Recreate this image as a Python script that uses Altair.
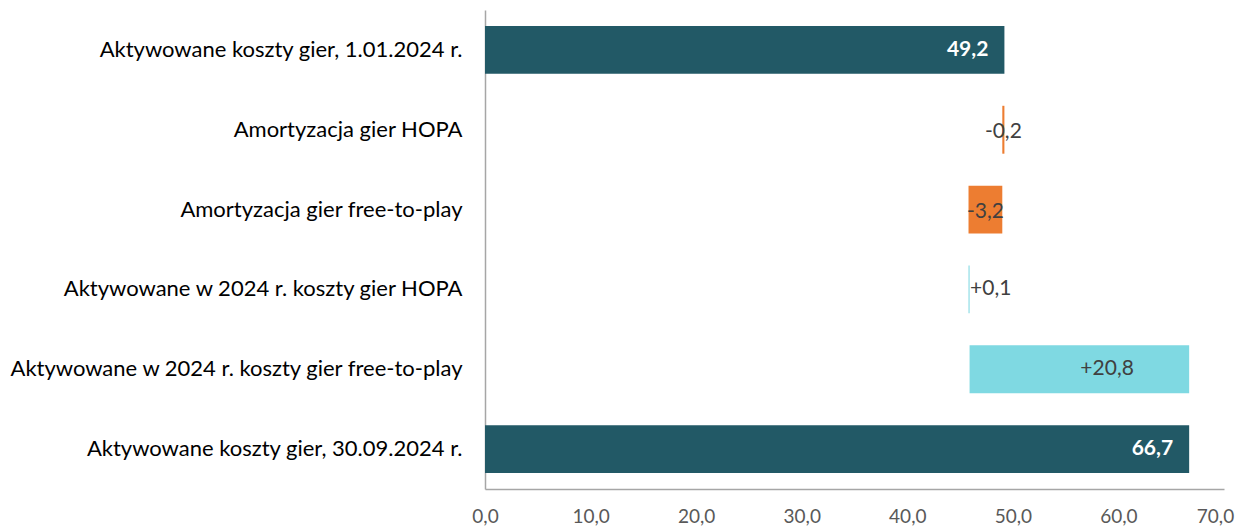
import altair as alt
import pandas as pd

categories = [
    "Aktywowane koszty gier, 1.01.2024 r.",
    "Amortyzacja gier HOPA",
    "Amortyzacja gier free-to-play",
    "Aktywowane w 2024 r. koszty gier HOPA",
    "Aktywowane w 2024 r. koszty gier free-to-play",
    "Aktywowane koszty gier, 30.09.2024 r.",
]
values = [49.2, -0.2, -3.2, 0.1, 20.8, 66.7]
kinds = ["total", "change", "change", "change", "change", "total"]

rows = []
running = 0.0
for cat, v, k in zip(categories, values, kinds):
    if k == "total":
        start, end = 0.0, v
        running = v
        label = f"{v:.1f}".replace(".", ",")
        typ = "total"
    else:
        start, end = running, running + v
        running = end
        label = ("+" if v > 0 else "") + f"{v:.1f}".replace(".", ",")
        typ = "up" if v > 0 else "down"
    rows.append(dict(cat=cat, start=round(start, 2), end=round(end, 2),
                     mid=round((start + end) / 2, 2), label=label, typ=typ))
df = pd.DataFrame(rows)

FONT = "Lato"
ysc = alt.Scale(domain=categories, paddingInner=0.4, paddingOuter=0.2)
xsc = alt.Scale(domain=[0, 70], nice=False)

base = alt.Chart(df)

bars = base.mark_bar().encode(
    y=alt.Y("cat:N", sort=categories, scale=ysc, title=None,
            axis=alt.Axis(domain=True, domainColor="#a6a6a6", domainWidth=1.5, ticks=False,
                          labelPadding=23, labelFontSize=22, labelColor="#000000",
                          labelFont=FONT, labelLimit=600)),
    x=alt.X("start:Q", scale=xsc, title=None,
            axis=alt.Axis(values=[0, 10, 20, 30, 40, 50, 60, 70], grid=False, ticks=False,
                          domainColor="#a6a6a6", domainWidth=1.5,
                          labelExpr="replace(format(datum.value, '.1f'), '.', ',')",
                          labelOffset={"condition": {"test": "datum.value == 70", "value": -9}, "value": 0},
                          labelPadding=18, labelFontSize=19, labelColor="#595959",
                          labelFont=FONT, labelFlush=False)),
    x2="end:Q",
    color=alt.Color("typ:N", legend=None,
                    scale=alt.Scale(domain=["total", "down", "up"],
                                    range=["#225966", "#ED7D31", "#7FD9E2"])),
)

tot = base.transform_filter("datum.typ == 'total'").mark_text(
    align="right", baseline="middle", dx=-16, fontSize=21, fontWeight="bold",
    color="white", font=FONT
).encode(y=alt.Y("cat:N", sort=categories, scale=ysc), x=alt.X("end:Q", scale=xsc), text="label:N")

down = base.transform_filter("datum.typ == 'down'").mark_text(
    align="center", baseline="middle", dy=2, fontSize=21, color="#404040", font=FONT
).encode(y=alt.Y("cat:N", sort=categories, scale=ysc), x=alt.X("mid:Q", scale=xsc), text="label:N")

up = base.transform_filter("datum.typ == 'up'").mark_text(
    align="left", baseline="middle", dx=1, fontSize=21, color="#404040", font=FONT
).encode(y=alt.Y("cat:N", sort=categories, scale=ysc), x=alt.X("mid:Q", scale=xsc), text="label:N")

chart = alt.layer(bars, tot, down, up).properties(
    width=739, height=479,
    background="white",
    autosize=alt.AutoSizeParams(type="none"),
    padding={"left": 477, "top": 2, "right": 11, "bottom": 38},
).configure_view(strokeWidth=0, stroke=None)

chart.save("out.html", embed_options={"renderer": "svg", "actions": False})
